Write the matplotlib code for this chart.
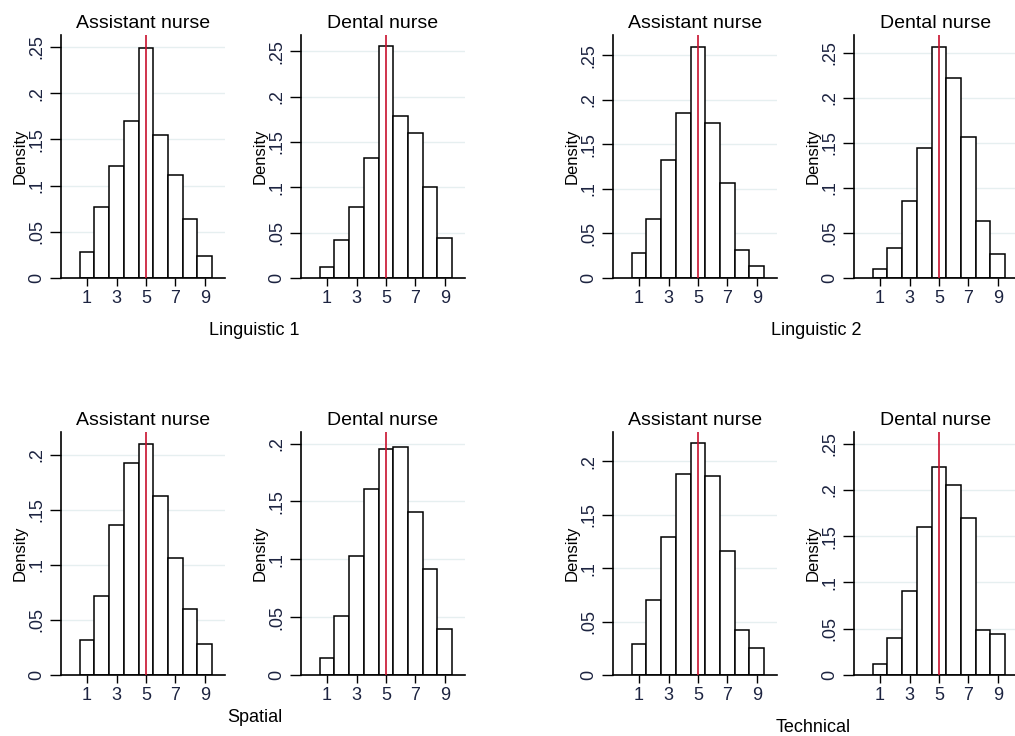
import matplotlib
matplotlib.use("Agg")
import matplotlib.pyplot as plt

plt.rcParams["font.family"] = ["Liberation Sans", "DejaVu Sans"]

# score bins (stanine 1-9)
scores = [1, 2, 3, 4, 5, 6, 7, 8, 9]
xticks = [1, 3, 5, 7, 9]
cutoff = 5

# densities
ling1_assistant = [0.028, 0.077, 0.121, 0.170, 0.249, 0.155, 0.112, 0.064, 0.024]
ling1_dental = [0.012, 0.042, 0.078, 0.132, 0.256, 0.179, 0.160, 0.100, 0.044]
ling2_assistant = [0.028, 0.066, 0.133, 0.185, 0.260, 0.174, 0.107, 0.032, 0.014]
ling2_dental = [0.010, 0.033, 0.086, 0.145, 0.257, 0.222, 0.157, 0.063, 0.027]
spat_assistant = [0.032, 0.072, 0.136, 0.192, 0.210, 0.162, 0.106, 0.060, 0.028]
spat_dental = [0.015, 0.051, 0.103, 0.161, 0.195, 0.197, 0.141, 0.092, 0.040]
tech_assistant = [0.029, 0.070, 0.129, 0.188, 0.217, 0.186, 0.116, 0.042, 0.025]
tech_dental = [0.012, 0.040, 0.091, 0.160, 0.225, 0.205, 0.170, 0.049, 0.044]

titles = ["Assistant nurse", "Dental nurse"]
ytick_vals = [0, 0.05, 0.1, 0.15, 0.2, 0.25]
ytick_text = ["0", ".05", ".1", ".15", ".2", ".25"]

W, H = 1015, 736
fig = plt.figure(figsize=(W / 100, H / 100), dpi=100)

col_left = [61, 301, 613, 854]
row_top = [35, 432]
row_bottom = [278, 675]

panels = [
    (0, 0, ling1_assistant, 0, 0.263),
    (0, 1, ling1_dental, 1, 0.268),
    (0, 2, ling2_assistant, 0, 0.273),
    (0, 3, ling2_dental, 1, 0.270),
    (1, 0, spat_assistant, 0, 0.2205),
    (1, 1, spat_dental, 1, 0.210),
    (1, 2, tech_assistant, 0, 0.2274),
    (1, 3, tech_dental, 1, 0.2626),
]

ink = "#1c2340"

for row, col, dens, t, ymax in panels:
    left = col_left[col] / W
    bottom = (H - row_bottom[row]) / H
    height = (row_bottom[row] - row_top[row]) / H
    ax = fig.add_axes([left, bottom, 164 / W, height])

    ax.bar(scores, dens, width=1.0, color="white", edgecolor="black", linewidth=1.1, zorder=2)
    ax.axvline(cutoff, color="#c8102e", linewidth=1.2, zorder=3)

    ax.set_xlim(-0.77, 10.37)
    ax.set_ylim(0, ymax)

    yt = [v for v in ytick_vals if v <= ymax + 1e-9]
    ax.set_yticks(yt)
    ax.set_yticklabels(ytick_text[:len(yt)], rotation=90, va="center", fontsize=13, color=ink)
    ax.set_xticks(xticks)
    ax.set_xticklabels([str(v) for v in xticks], fontsize=13, color=ink)
    ax.tick_params(axis="y", length=8, width=1, pad=3)
    ax.tick_params(axis="x", length=6, width=1, pad=3)

    for v in yt:
        if v > 0:
            ax.axhline(v, color="#e6eff0", linewidth=1.0, zorder=1)

    ax.spines["top"].set_visible(False)
    ax.spines["right"].set_visible(False)
    ax.spines["left"].set_linewidth(1.2)
    ax.spines["bottom"].set_linewidth(1.2)

    ax.set_ylabel("Density", fontsize=12, labelpad=1)
    ax.set_title(titles[t], fontsize=14, pad=5)

# test names under each pair
fig.text(254 / W, 1 - 330 / H, "Linguistic 1", fontsize=13, ha="center", va="center")
fig.text(816 / W, 1 - 330 / H, "Linguistic 2", fontsize=13, ha="center", va="center")
fig.text(255 / W, 1 - 718 / H, "Spatial", fontsize=13, ha="center", va="center")
fig.text(813 / W, 1 - 727 / H, "Technical", fontsize=13, ha="center", va="center")

fig.savefig("out.png", dpi=100, facecolor="white")
